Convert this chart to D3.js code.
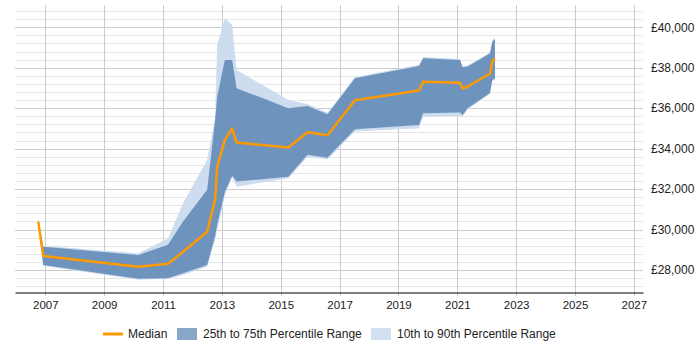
<!DOCTYPE html>
<html>
<head>
<meta charset="utf-8">
<script src="https://cdn.jsdelivr.net/npm/d3@7"></script>
<style>
  html, body { margin: 0; padding: 0; background: #fff; }
  text { font-family: "Liberation Sans", Arial, sans-serif; fill: #222; }
</style>
</head>
<body>
<div id="chart"></div>
<script>
// decimal years of each sample
var years = [2006.76, 2006.93, 2010.16, 2011.17, 2011.68, 2012.50, 2012.77, 2012.84, 2013.10, 2013.35, 2013.50,
  2015.26, 2015.91, 2016.59, 2017.52, 2019.70, 2019.84, 2021.09, 2021.18, 2021.35, 2022.11, 2022.19, 2022.28];
var median = [30390, 28690, 28160, 28310, 28900, 29890, 31460, 33090, 34430, 34990, 34300,
  34050, 34810, 34660, 36390, 36870, 37300, 37260, 36970, 37070, 37700, 38340, 38450];
var p25 = [30360, 28250, 27560, 27590, 27840, 28250, 29680, 30220, 31860, 32660, 32370,
  32610, 33690, 33550, 34960, 35170, 35750, 35780, 35660, 36000, 36750, 37400, 37450];
var p75 = [30420, 29150, 28740, 29250, 30390, 31960, 35420, 36560, 38380, 38380, 36990,
  36000, 36110, 35700, 37480, 38090, 38470, 38380, 38020, 38060, 38700, 39290, 39420];
var p10 = [30300, 28200, 27520, 27560, 27750, 28160, 29480, 29980, 31660, 32600, 32120,
  32530, 33590, 33460, 34850, 35010, 35580, 35620, 35590, 35940, 36700, 37350, 37400];
var p90 = [30560, 29200, 28820, 29550, 31300, 33440, 35520, 39130, 40450, 40120, 37890,
  36400, 36210, 35770, 37540, 38140, 38530, 38430, 38070, 38110, 38750, 39340, 39470];

var xTicks = [2007, 2009, 2011, 2013, 2015, 2017, 2019, 2021, 2023, 2025, 2027];
var yTicks = [28000, 30000, 32000, 34000, 36000, 38000, 40000];
var legendItems = ['Median', '25th to 75th Percentile Range', '10th to 90th Percentile Range'];

var W = 700, H = 350;
var m = { left: 15, right: 57, top: 5, bottom: 58 };

var svg = d3.select('#chart').append('svg')
  .attr('width', W)
  .attr('height', H);

var xScale = d3.scaleLinear().domain([2005.97, 2027.31]).range([m.left, W - m.right]);
var yScale = d3.scaleLinear().domain([26910, 41100]).range([H - m.bottom, m.top]);

var rows = years.map(function (y, i) {
  return { x: y, med: median[i], lo25: p25[i], hi75: p75[i], lo10: p10[i], hi90: p90[i] };
});

// minor horizontal grid
var minor = d3.range(27200, 41100, 400).filter(function (v) { return v % 2000 !== 0; });
svg.append('g').selectAll('line')
  .data(minor)
  .enter().append('line')
  .attr('x1', m.left).attr('x2', W - m.right)
  .attr('y1', function (d) { return Math.round(yScale(d)) + 0.5; })
  .attr('y2', function (d) { return Math.round(yScale(d)) + 0.5; })
  .attr('stroke', '#e6e6e6');

// major horizontal grid
svg.append('g').selectAll('line')
  .data(yTicks)
  .enter().append('line')
  .attr('x1', m.left).attr('x2', W - m.right)
  .attr('y1', function (d) { return Math.round(yScale(d)) + 0.5; })
  .attr('y2', function (d) { return Math.round(yScale(d)) + 0.5; })
  .attr('stroke', '#cccccc');

// vertical grid
svg.append('g').selectAll('line')
  .data(xTicks)
  .enter().append('line')
  .attr('x1', function (d) { return Math.round(xScale(d)) + 0.5; })
  .attr('x2', function (d) { return Math.round(xScale(d)) + 0.5; })
  .attr('y1', m.top).attr('y2', H - m.bottom + 4)
  .attr('stroke', '#cccccc');

var area9010 = d3.area()
  .x(function (d) { return xScale(d.x); })
  .y0(function (d) { return yScale(d.lo10); })
  .y1(function (d) { return yScale(d.hi90); });

var area7525 = d3.area()
  .x(function (d) { return xScale(d.x); })
  .y0(function (d) { return yScale(d.lo25); })
  .y1(function (d) { return yScale(d.hi75); });

var medLine = d3.line()
  .x(function (d) { return xScale(d.x); })
  .y(function (d) { return yScale(d.med); });

svg.append('path').datum(rows)
  .attr('d', area9010)
  .attr('fill', '#cddcee');

svg.append('path').datum(rows)
  .attr('d', area7525)
  .attr('fill', '#6e94bd');

svg.append('path').datum(rows)
  .attr('d', medLine)
  .attr('fill', 'none')
  .attr('stroke', '#ff9900')
  .attr('stroke-width', 2.5)
  .attr('stroke-linejoin', 'round');

// x axis
var xAxis = d3.axisBottom(xScale)
  .tickValues(xTicks)
  .tickFormat(d3.format('d'))
  .tickSize(0)
  .tickPadding(8);

var gx = svg.append('g')
  .attr('class', 'xaxis')
  .attr('transform', 'translate(0,' + (H - m.bottom + 0.5) + ')')
  .call(xAxis);
gx.select('.domain').attr('stroke', '#000').attr('stroke-width', 1.2);
gx.selectAll('text').attr('font-size', 11.5).attr('fill', '#222')
  .attr('font-family', '"Liberation Sans", Arial, sans-serif');

// y axis on the right
var yAxis = d3.axisRight(yScale)
  .tickValues(yTicks)
  .tickFormat(function (d) { return '£' + d3.format(',')(d); })
  .tickSize(0)
  .tickPadding(8);

var gy = svg.append('g')
  .attr('class', 'yaxis')
  .attr('transform', 'translate(' + (W - m.right) + ',0)')
  .call(yAxis);
gy.select('.domain').remove();
gy.selectAll('text').attr('font-size', 12).attr('fill', '#222')
  .attr('font-family', '"Liberation Sans", Arial, sans-serif');

// legend
var ly = 334;
var lg = svg.append('g').attr('class', 'legend');
lg.append('line')
  .attr('x1', 103).attr('x2', 123)
  .attr('y1', ly).attr('y2', ly)
  .attr('stroke', '#ff9900').attr('stroke-width', 3);
lg.append('text').attr('x', 128).attr('y', ly).attr('dy', '0.35em')
  .attr('font-size', 12).text(legendItems[0]);
lg.append('rect')
  .attr('x', 177).attr('y', ly - 6).attr('width', 20).attr('height', 12)
  .attr('fill', '#88a7c9');
lg.append('text').attr('x', 203).attr('y', ly).attr('dy', '0.35em')
  .attr('font-size', 12).text(legendItems[1]);
lg.append('rect')
  .attr('x', 371).attr('y', ly - 6).attr('width', 20).attr('height', 12)
  .attr('fill', '#d0e0f1');
lg.append('text').attr('x', 397).attr('y', ly).attr('dy', '0.35em')
  .attr('font-size', 12).text(legendItems[2]);
</script>
</body>
</html>
